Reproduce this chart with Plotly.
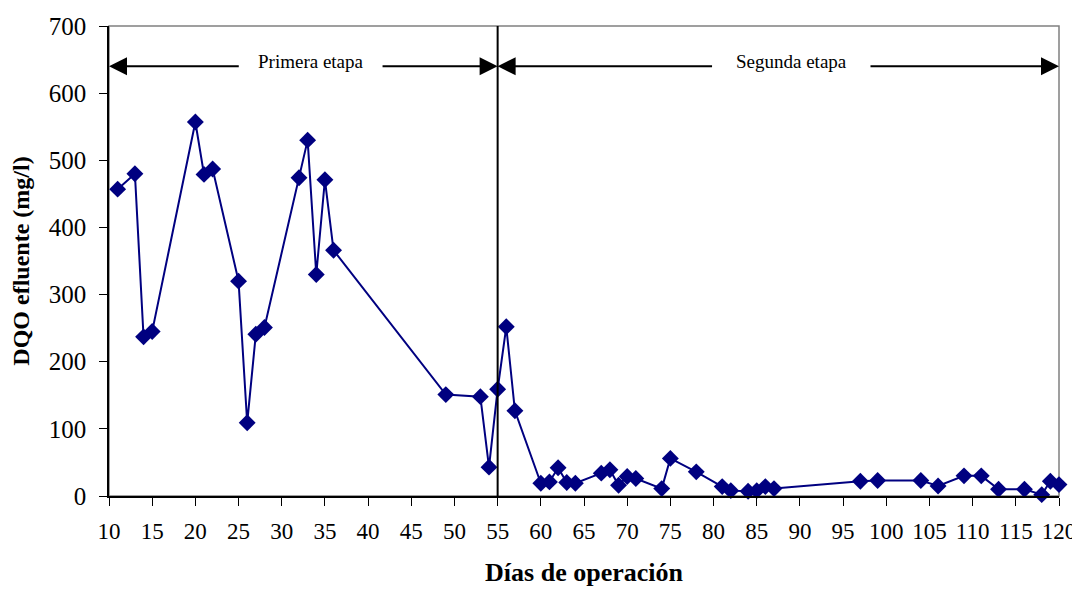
import plotly.graph_objects as go

dias = [11, 13, 14, 15, 20, 21, 22, 25, 26, 27, 28, 32, 33, 34, 35, 36,
        49, 53, 54, 55, 56, 57, 60, 61, 62, 63, 64, 67, 68, 69, 70, 71,
        74, 75, 78, 81, 82, 84, 85, 86, 87, 97, 99, 104, 106, 109, 111,
        113, 116, 118, 119, 120]
dqo = [457, 480, 237, 245, 557, 479, 487, 320, 109, 241, 251, 474, 530, 330, 471, 366,
       151, 148, 43, 159, 252, 127, 19, 21, 42, 20, 19, 34, 39, 16, 29, 26,
       11, 56, 36, 14, 8, 7, 8, 14, 11, 22, 23, 23, 15, 30, 30,
       10, 10, 2, 22, 17]

x_ticks = list(range(10, 121, 5))
y_ticks = list(range(0, 701, 100))

etapa_div = 55
arrow_y = 640
primera = {"label": "Primera etapa", "start": 10, "end": 55, "gap": (25.2, 41.5)}
segunda = {"label": "Segunda etapa", "start": 55, "end": 120, "gap": (80.0, 98.0)}

font_family = "Liberation Serif, Times New Roman, serif"

fig = go.Figure()
fig.add_trace(go.Scatter(
    x=dias, y=dqo, mode="lines+markers",
    line=dict(color="#000080", width=2),
    marker=dict(symbol="diamond", size=13, color="#000080"),
    showlegend=False, cliponaxis=False,
))

shapes = [
    dict(type="rect", xref="paper", yref="paper", x0=0, x1=1, y0=0, y1=1,
         line=dict(color="#808080", width=1.5), layer="below"),
    dict(type="line", xref="x", yref="y", x0=etapa_div, x1=etapa_div, y0=0, y1=700,
         line=dict(color="black", width=2)),
]

annotations = []
for st in (primera, segunda):
    annotations.append(dict(x=st["start"], y=arrow_y, ax=st["gap"][0], ay=arrow_y,
                            xref="x", yref="y", axref="x", ayref="y", text="",
                            showarrow=True, arrowhead=2, arrowsize=1.8, arrowwidth=2,
                            arrowcolor="black", standoff=0))
    annotations.append(dict(x=st["end"], y=arrow_y, ax=st["gap"][1], ay=arrow_y,
                            xref="x", yref="y", axref="x", ayref="y", text="",
                            showarrow=True, arrowhead=2, arrowsize=1.8, arrowwidth=2,
                            arrowcolor="black", standoff=0))
    annotations.append(dict(x=(st["gap"][0] + st["gap"][1]) / 2, y=arrow_y, yshift=5,
                            xref="x", yref="y", text=st["label"], showarrow=False,
                            font=dict(family=font_family, size=19, color="black")))

fig.update_layout(
    width=1072, height=581,
    margin=dict(l=101, r=21, t=18, b=93),
    paper_bgcolor="white", plot_bgcolor="white",
    font=dict(family=font_family, size=23, color="black"),
    shapes=shapes, annotations=annotations,
    xaxis=dict(range=[10, 120], tickvals=x_ticks, ticktext=[str(v) for v in x_ticks],
               automargin=False,
               showgrid=False, zeroline=False, showline=True, linecolor="black", linewidth=1.5,
               ticks="outside", ticklen=8, tickcolor="black", tickfont=dict(size=23),
               ticklabelstandoff=6,
               title=dict(text="<b>Días de operación</b>", font=dict(size=26), standoff=19)),
    yaxis=dict(range=[0, 700], tickvals=y_ticks, ticktext=[str(v) for v in y_ticks],
               automargin=False,
               showgrid=False, zeroline=False, showline=True, linecolor="black", linewidth=1.5,
               ticks="outside", ticklen=8, tickcolor="black", tickfont=dict(size=25),
               ticklabelstandoff=8,
               title=dict(text="<b>DQO efluente (mg/l)</b>", font=dict(size=24), standoff=12)),
)

fig.write_html("out.html")
